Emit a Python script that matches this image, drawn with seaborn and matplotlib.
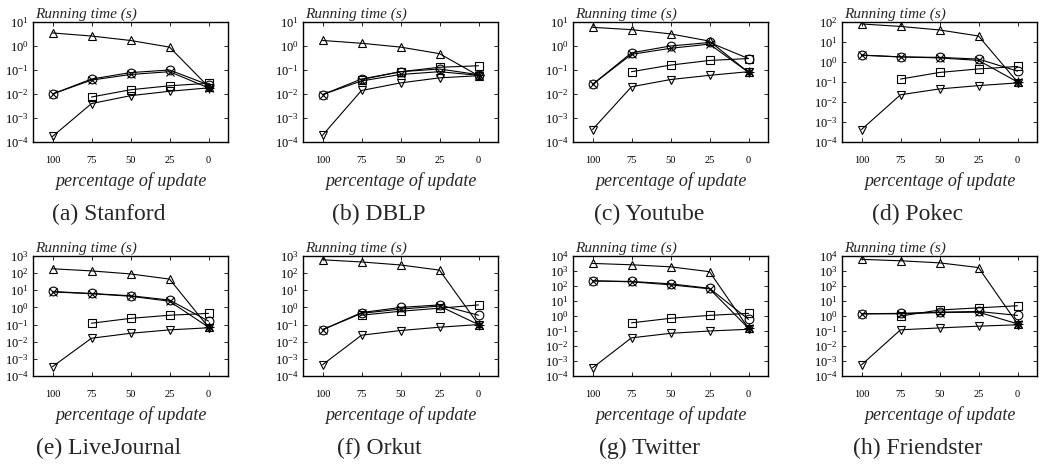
import matplotlib
matplotlib.use("Agg")
import matplotlib.pyplot as plt
import matplotlib.ticker as mticker
import numpy as np
import pandas as pd
import seaborn as sns

# percentage of update (x axis, shown reversed)
pct = [100, 75, 50, 25, 0]

datasets = ["Stanford", "DBLP", "Youtube", "Pokec",
            "LiveJournal", "Orkut", "Twitter", "Friendster"]
letters = ["a", "b", "c", "d", "e", "f", "g", "h"]
ymax_exp = [1, 1, 1, 2, 3, 3, 4, 4]

# running time (s) per dataset, one list per marker series
tri_up = [
    [3.5, 2.6, 1.7, 0.9, 0.02],
    [1.7, 1.3, 0.9, 0.48, 0.058],
    [6.0, 4.8, 3.2, 1.6, 0.08],
    [80, 60, 40, 20, 0.1],
    [180, 135, 90, 45, 0.07],
    [600, 450, 300, 150, 0.1],
    [3200, 2600, 1900, 900, 0.15],
    [6000, 4800, 3500, 1700, 0.3],
]
circle = [
    [0.01, 0.042, 0.078, 0.1, 0.024],
    [0.0094, 0.042, 0.085, 0.11, 0.064],
    [0.025, 0.52, 1.0, 1.4, 0.3],
    [2.2, 1.8, 1.7, 1.4, 0.35],
    [8.5, 6.5, 4.8, 2.7, 0.16],
    [0.05, 0.5, 1.0, 1.4, 0.35],
    [220, 200, 140, 70, 0.6],
    [1.4, 1.5, 1.8, 2.0, 1.1],
]
cross = [
    [0.01, 0.038, 0.065, 0.085, 0.018],
    [0.0094, 0.035, 0.065, 0.085, 0.06],
    [0.025, 0.45, 0.8, 1.2, 0.08],
    [2.2, 1.8, 1.6, 1.2, 0.1],
    [8.0, 6.3, 4.5, 2.3, 0.07],
    [0.05, 0.45, 0.8, 1.2, 0.1],
    [220, 190, 120, 65, 0.15],
    [1.4, 1.4, 1.7, 1.8, 0.3],
]
square = [
    [np.nan, 0.0075, 0.015, 0.022, 0.028],
    [np.nan, 0.04, 0.085, 0.13, 0.15],
    [np.nan, 0.085, 0.16, 0.25, 0.3],
    [np.nan, 0.14, 0.3, 0.45, 0.6],
    [np.nan, 0.12, 0.23, 0.35, 0.45],
    [np.nan, 0.35, 0.6, 0.9, 1.4],
    [np.nan, 0.35, 0.7, 1.1, 1.5],
    [np.nan, 1.0, 2.5, 3.5, 4.8],
]
tri_down = [
    [1.7e-4, 0.004, 0.0085, 0.013, 0.018],
    [1.9e-4, 0.014, 0.029, 0.047, 0.058],
    [3.3e-4, 0.02, 0.04, 0.06, 0.085],
    [4.2e-4, 0.023, 0.045, 0.066, 0.09],
    [3.5e-4, 0.016, 0.031, 0.049, 0.065],
    [4.5e-4, 0.024, 0.045, 0.07, 0.1],
    [3.5e-4, 0.035, 0.07, 0.1, 0.13],
    [5.5e-4, 0.12, 0.16, 0.21, 0.26],
]
# single "+" point at 0% update
plus_zero = [0.018, 0.06, 0.08, 0.1, 0.07, 0.1, 0.15, 0.3]

series = [("up", tri_up, "^"), ("circle", circle, "o"), ("cross", cross, "x"),
          ("square", square, "s"), ("down", tri_down, "v")]

sns.set_style("ticks")
plt.rcParams["font.family"] = ["Liberation Serif", "DejaVu Serif"]
plt.rcParams["mathtext.fontset"] = "stix"

fig = plt.figure(figsize=(10.45, 4.66), dpi=100)
W, H = 1045, 466
lefts = [33, 303, 573, 842]
tops = [22, 256]
aw, ah = 195, 120

for i, name in enumerate(datasets):
    r, c = divmod(i, 4)
    ax = fig.add_axes([lefts[c] / W, 1 - (tops[r] + ah) / H, aw / W, ah / H])
    for key, vals, mk in series:
        df = pd.DataFrame({"pct": pct, "time": vals[i]}).dropna()
        sns.lineplot(data=df, x="pct", y="time", ax=ax, color="black",
                     lw=0.8, marker=mk, markersize=6.3, mfc="none",
                     mec="black", mew=0.8, legend=False)
    ax.plot([0], [plus_zero[i]], marker="+", ls="none", color="black",
            markersize=6.5, mew=0.8)

    ax.set_yscale("log")
    ax.set_ylim(1e-4, 10 ** ymax_exp[i])
    ax.set_xlim(112.5, -12.5)
    ax.set_xticks(pct)
    ax.yaxis.set_major_locator(mticker.LogLocator(base=10, numticks=12))
    ax.yaxis.set_major_formatter(mticker.LogFormatterMathtext())
    ax.yaxis.set_minor_locator(mticker.NullLocator())
    ax.tick_params(direction="in", top=True, right=True, length=3,
                   width=0.6, colors="black")
    ax.tick_params(axis="x", labelsize=7.5, pad=10)
    ax.tick_params(axis="y", labelsize=9, pad=3)
    for sp in ax.spines.values():
        sp.set_linewidth(1.0)
        sp.set_color("black")
    ax.set_xlabel("percentage of update", fontsize=13, style="italic",
                  labelpad=5)
    ax.set_ylabel("")
    ax.text(0.01, 1.01, "Running time (s)", transform=ax.transAxes,
            fontsize=11, style="italic", ha="left", va="bottom")
    ax.text(0.39, -0.6, f"({letters[i]}) {name}", transform=ax.transAxes,
            fontsize=17, ha="center", va="center")

fig.savefig("out.png", dpi=100)
